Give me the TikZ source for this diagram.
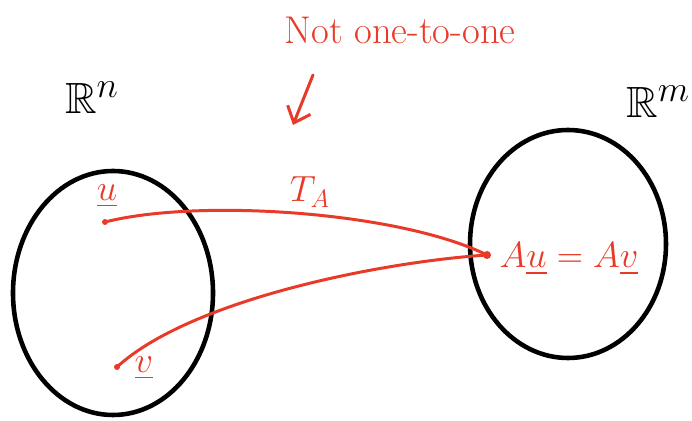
\documentclass[tikz,border=0pt]{standalone}
\usetikzlibrary{arrows.meta}
\usepackage{amsmath}
\usepackage{amssymb}
\definecolor{inkred}{RGB}{232,58,40}

\begin{document}
\begin{tikzpicture}[x=0.02cm,y=-0.02cm,line cap=round,
  space/.style={line width=2.6pt,black},
  ink/.style={line width=1.7pt,inkred},
  label/.style={inkred,font=\huge,inner sep=0}]
\useasboundingbox (0,0) rectangle (692,421);
% the two spaces
\draw[space] (113,293) ellipse [x radius=100, y radius=122];
\draw[space] (568,244) ellipse [x radius=98, y radius=114];
\node (Rn) at (92,98) {\Huge $\mathbb{R}^n$};
\node[anchor=east,inner sep=1pt] (Rm) at (692,102) {\Huge $\mathbb{R}^m$};
% points and their images
\coordinate (pu) at (105,222);
\coordinate (pv) at (117,367);
\coordinate (img) at (487,255);
\fill[inkred] (pu) circle (3) (pv) circle (3) (img) circle (4);
\node[label] (lu) at (107,196) {$\underline{u}$};
\node[label] (lv) at (144,368) {$\underline{v}$};
\node[label] (TA) at (310,192) {$T_A$};
\node[label] (Auv) at (569,259) {$A\underline{u}=A\underline{v}$};
\draw[ink] (pu) .. controls (200,198) and (400,212) .. (img);
\draw[ink] (pv) .. controls (190,300) and (380,262) .. (img);
% remark
\node[label,font=\fontsize{22}{26}\selectfont] (note) at (400,30) {Not one-to-one};
\coordinate (a0) at (313,75);
\coordinate (a1) at (293,125);
\draw[ink,-{Straight Barb[length=8pt,width=14pt]}] (a0) -- (a1);
\end{tikzpicture}
\end{document}
